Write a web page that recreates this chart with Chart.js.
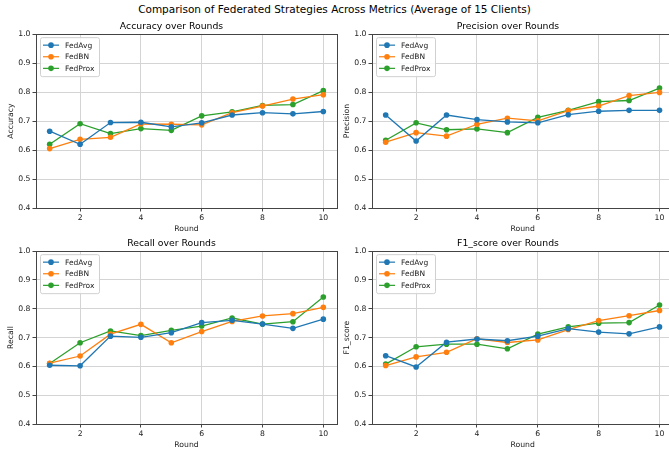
<!DOCTYPE html>
<html>
<head>
<meta charset="utf-8">
<script src="https://cdn.jsdelivr.net/npm/chart.js@4"></script>
<style>
  html, body { margin: 0; padding: 0; background: #fff; overflow: hidden; }
  body { width: 669px; height: 451px; position: relative; font-family: "DejaVu Sans", sans-serif; }
  #suptitle { position: absolute; left: 0; top: 3px; width: 669px; text-align: center; font-size: 10.5px; color: #000; }
  .box { position: absolute; width: 340px; }
</style>
</head>
<body>
<div id="suptitle">Comparison of Federated Strategies Across Metrics (Average of 15 Clients)</div>
<div class="box" style="left:0; top:18px; height:216px;"><canvas id="c0"></canvas></div>
<div class="box" style="left:336px; top:18px; height:216px;"><canvas id="c1"></canvas></div>
<div class="box" style="left:0; top:235px; height:215px;"><canvas id="c2"></canvas></div>
<div class="box" style="left:336px; top:235px; height:215px;"><canvas id="c3"></canvas></div>
<script>
// data
const rounds = [1, 2, 3, 4, 5, 6, 7, 8, 9, 10];
const strategies = ['FedAvg', 'FedBN', 'FedProx'];
const metrics = ['Accuracy', 'Precision', 'Recall', 'F1_score'];
const xTicks = [2, 4, 6, 8, 10];
const yTicks = [0.4, 0.5, 0.6, 0.7, 0.8, 0.9, 1.0];

const accFedAvg  = [0.665, 0.620, 0.695, 0.696, 0.680, 0.694, 0.721, 0.729, 0.725, 0.733];
const accFedBN   = [0.605, 0.637, 0.644, 0.690, 0.689, 0.687, 0.729, 0.752, 0.776, 0.791];
const accFedProx = [0.620, 0.691, 0.657, 0.674, 0.668, 0.718, 0.732, 0.754, 0.757, 0.805];

const precFedAvg  = [0.721, 0.631, 0.721, 0.705, 0.697, 0.694, 0.722, 0.734, 0.737, 0.737];
const precFedBN   = [0.627, 0.660, 0.648, 0.689, 0.710, 0.701, 0.736, 0.752, 0.788, 0.799];
const precFedProx = [0.634, 0.694, 0.670, 0.673, 0.660, 0.713, 0.737, 0.767, 0.771, 0.814];

const recFedAvg  = [0.604, 0.602, 0.705, 0.701, 0.717, 0.752, 0.760, 0.747, 0.732, 0.764];
const recFedBN   = [0.611, 0.636, 0.712, 0.746, 0.682, 0.721, 0.756, 0.775, 0.783, 0.805];
const recFedProx = [0.610, 0.682, 0.723, 0.707, 0.725, 0.740, 0.768, 0.747, 0.755, 0.841];

const f1FedAvg  = [0.637, 0.598, 0.684, 0.695, 0.689, 0.705, 0.731, 0.719, 0.713, 0.737];
const f1FedBN   = [0.603, 0.633, 0.649, 0.696, 0.683, 0.692, 0.728, 0.759, 0.776, 0.794];
const f1FedProx = [0.608, 0.668, 0.677, 0.677, 0.661, 0.712, 0.737, 0.750, 0.752, 0.813];

const seriesByMetric = [
  [accFedAvg, accFedBN, accFedProx],
  [precFedAvg, precFedBN, precFedProx],
  [recFedAvg, recFedBN, recFedProx],
  [f1FedAvg, f1FedBN, f1FedProx]
];
const colors = ['#1f77b4', '#ff7f0e', '#2ca02c'];
const FONT = '"DejaVu Sans", sans-serif';

// frame round the plot + legend box in the upper left, like matplotlib
const framePlugin = {
  id: 'frame',
  afterDatasetsDraw(chart) {
    const ctx = chart.ctx, a = chart.chartArea;
    ctx.save();
    ctx.strokeStyle = '#444';
    ctx.lineWidth = 1;
    ctx.strokeRect(Math.round(a.left) + 0.5, Math.round(a.top) + 0.5,
                   Math.round(a.right - a.left), Math.round(a.bottom - a.top));
    // legend
    const bx = a.left + 4, by = a.top + 3, bw = 59, bh = 39;
    ctx.fillStyle = 'rgba(255,255,255,0.85)';
    ctx.strokeStyle = '#d0d0d0';
    ctx.beginPath();
    ctx.roundRect(bx + 0.5, by + 0.5, bw, bh, 2);
    ctx.fill();
    ctx.stroke();
    ctx.font = '7.5px ' + FONT;
    ctx.textBaseline = 'middle';
    chart.data.datasets.forEach((ds, i) => {
      const y = by + 8 + i * 11.6;
      ctx.strokeStyle = ds.borderColor;
      ctx.lineWidth = 1.2;
      ctx.beginPath();
      ctx.moveTo(bx + 3, y);
      ctx.lineTo(bx + 19, y);
      ctx.stroke();
      ctx.fillStyle = ds.borderColor;
      ctx.beginPath();
      ctx.arc(bx + 11, y, 2.8, 0, Math.PI * 2);
      ctx.fill();
      ctx.fillStyle = '#222';
      ctx.fillText(ds.label, bx + 25, y + 0.5);
    });
    ctx.restore();
  }
};

function makeChart(idx) {
  const isRight = idx % 2 === 1;
  const metric = metrics[idx];
  const datasets = strategies.map((name, i) => ({
    label: name,
    data: rounds.map((r, k) => ({ x: r, y: seriesByMetric[idx][i][k] })),
    borderColor: colors[i],
    backgroundColor: colors[i],
    borderWidth: 1.3,
    pointRadius: 2.8,
    pointHoverRadius: 2.8,
    pointBorderWidth: 0,
    tension: 0
  }));
  return new Chart(document.getElementById('c' + idx), {
    type: 'line',
    data: { datasets: datasets },
    options: {
      responsive: true,
      maintainAspectRatio: false,
      animation: false,
      events: [],
      layout: { padding: { left: 6, right: isRight ? 2 : 3, top: 0, bottom: 0 } },
      plugins: {
        legend: { display: false },
        tooltip: { enabled: false },
        title: {
          display: true,
          text: metric + ' over Rounds',
          color: '#000',
          font: { family: FONT, size: 9.3, weight: 'normal' },
          padding: { top: 3, bottom: 2 }
        }
      },
      scales: {
        x: {
          type: 'linear',
          min: 0.55,
          max: 10.45,
          afterBuildTicks: s => { s.ticks = xTicks.map(v => ({ value: v })); },
          afterFit: s => { s.height = 26; },
          ticks: { color: '#222', font: { family: FONT, size: 7.7 }, padding: 2, maxRotation: 0,
                   callback: v => String(v) },
          grid: { color: '#d4d4d4', lineWidth: 1, tickLength: 3.5, tickColor: '#444', drawTicks: true },
          border: { display: true, color: '#444', width: 1 },
          title: { display: true, text: 'Round', color: '#222', font: { family: FONT, size: 7.7 },
                   padding: { top: 0, bottom: 0 } }
        },
        y: {
          min: 0.4,
          max: 1.0,
          afterBuildTicks: s => { s.ticks = yTicks.map(v => ({ value: v })); },
          afterFit: s => { s.width = 30; },
          ticks: { color: '#222', font: { family: FONT, size: 7.7 }, padding: 2,
                   callback: v => v.toFixed(1) },
          grid: { color: '#d4d4d4', lineWidth: 1, tickLength: 3.5, tickColor: '#444', drawTicks: true },
          border: { display: true, color: '#444', width: 1 },
          title: { display: true, text: metric, color: '#222', font: { family: FONT, size: 7.7 },
                   padding: { top: 0, bottom: 0 } }
        }
      }
    },
    plugins: [framePlugin]
  });
}

[0, 1, 2, 3].forEach(makeChart);
</script>
</body>
</html>
